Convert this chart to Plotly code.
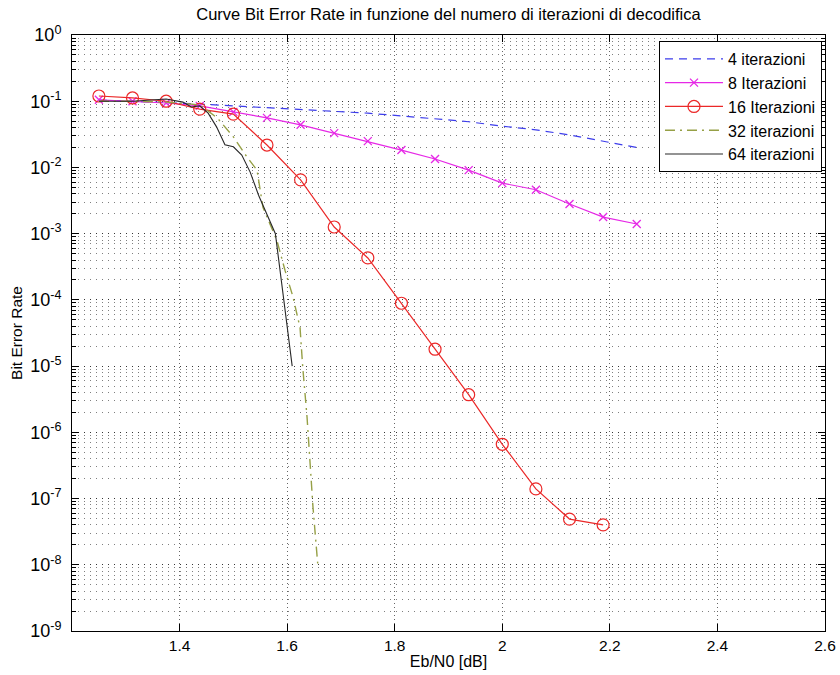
import plotly.graph_objects as go

# ---------------- data ----------------
x_std = [1.25, 1.3125, 1.375, 1.4375, 1.5, 1.5625, 1.625, 1.6875, 1.75, 1.8125,
         1.875, 1.9375, 2.0, 2.0625, 2.125, 2.1875, 2.25]

ber_4 = [0.104, 0.100, 0.097, 0.091, 0.085, 0.080, 0.076, 0.071, 0.066, 0.060,
         0.054, 0.049, 0.042, 0.037, 0.031, 0.025, 0.020]

ber_8 = [0.105, 0.100, 0.094, 0.085, 0.069, 0.056, 0.044, 0.033, 0.025, 0.0183,
         0.0134, 0.0091, 0.0058, 0.0046, 0.0028, 0.00178, 0.0014]

x_16 = x_std[:16]
ber_16 = [0.12, 0.112, 0.10, 0.076, 0.064, 0.0218, 0.0065, 0.00126, 0.00043, 8.9e-5,
          1.8e-5, 3.7e-6, 6.6e-7, 1.4e-7, 4.9e-8, 4.0e-8]

x_32 = [1.25, 1.3125, 1.375, 1.438, 1.47, 1.5, 1.525, 1.544, 1.555, 1.581,
        1.596, 1.611, 1.624, 1.629, 1.637, 1.642, 1.648, 1.657]
ber_32 = [0.10, 0.10, 0.097, 0.088, 0.056, 0.029, 0.0145, 0.0091, 0.0025, 7.9e-4,
          2.8e-4, 1.1e-4, 3.8e-5, 9.6e-6, 1.7e-6, 3.8e-7, 7.5e-8, 1.0e-8]

x_64 = [1.25, 1.3125, 1.375, 1.40625, 1.421875, 1.4375, 1.453125, 1.46875, 1.484375,
        1.5, 1.515625, 1.53125, 1.546875, 1.5625, 1.578125, 1.609375]
ber_64 = [0.10, 0.10, 0.108, 0.097, 0.082, 0.085, 0.066, 0.041, 0.022,
          0.0205, 0.0154, 0.0085, 0.0038, 0.0019, 0.0010, 1.0e-5]

x_tickvals = [1.4, 1.6, 1.8, 2.0, 2.2, 2.4, 2.6]
x_ticktext = ["1.4", "1.6", "1.8", "2", "2.2", "2.4", "2.6"]
y_exponents = [0, -1, -2, -3, -4, -5, -6, -7, -8, -9]

title_text = "Curve Bit Error Rate in funzione del numero di iterazioni di decodifica"
x_title = "Eb/N0 [dB]"
y_title = "Bit Error Rate"

# ---------------- figure ----------------
FONT = "Liberation Sans, Arial, Helvetica, sans-serif"
fig = go.Figure()

fig.add_trace(go.Scatter(x=x_std, y=ber_4, mode="lines", name="4 iterazioni",
                         line=dict(color="rgb(60,60,235)", width=1.2, dash="8px,6px")))
fig.add_trace(go.Scatter(x=x_std, y=ber_8, mode="lines+markers", name="8 Iterazioni",
                         line=dict(color="rgb(230,40,230)", width=1.2),
                         marker=dict(symbol="x-thin-open", size=8,
                                     line=dict(color="rgb(230,40,230)", width=1.3))))
fig.add_trace(go.Scatter(x=x_16, y=ber_16, mode="lines+markers", name="16 Iterazioni",
                         line=dict(color="rgb(235,40,40)", width=1.2),
                         marker=dict(symbol="circle-open", size=12,
                                     line=dict(color="rgb(235,40,40)", width=1.2))))
fig.add_trace(go.Scatter(x=x_32, y=ber_32, mode="lines", name="32 iterazioni",
                         line=dict(color="rgb(150,160,70)", width=1.4,
                                   dash="10px,5px,2px,5px")))
fig.add_trace(go.Scatter(x=x_64, y=ber_64, mode="lines", name="64 iterazioni",
                         line=dict(color="rgb(40,40,40)", width=1.1)))

major_grid = "rgba(0,0,0,0.6)"
minor_grid = "rgba(0,0,0,0.5)"

fig.update_layout(
    width=840, height=675,
    margin=dict(l=72, r=15, t=35, b=44),
    paper_bgcolor="white", plot_bgcolor="white",
    font=dict(family=FONT, size=16, color="black"),
    title=dict(text=title_text, x=0.5, xref="paper", xanchor="center",
               y=0.979, yref="container", yanchor="middle",
               font=dict(family=FONT, size=16.5, color="black")),
    showlegend=True,
    legend=dict(x=0.996, y=0.99, xanchor="right", yanchor="top",
                bgcolor="white", bordercolor="black", borderwidth=1,
                font=dict(family=FONT, size=16, color="black"),
                tracegroupgap=0, itemwidth=58),
)

fig.update_xaxes(
    range=[1.2, 2.6], showline=True, linecolor="black", linewidth=1, mirror="ticks",
    tickmode="array", tickvals=x_tickvals, ticktext=x_ticktext,
    ticks="inside", ticklen=7, tickcolor="black",
    showgrid=True, gridcolor=major_grid, griddash="1px,3px", gridwidth=1,
    zeroline=False, automargin=False,
    title=dict(text=x_title, standoff=3, font=dict(family=FONT, size=16)),
    tickfont=dict(family=FONT, size=15.5),
)

fig.update_yaxes(
    type="log", range=[-9, 0], showline=True, linecolor="black", linewidth=1,
    mirror="ticks",
    tickmode="array",
    tickvals=[10.0 ** e for e in y_exponents],
    ticktext=["10<sup>%d</sup>" % e for e in y_exponents],
    ticks="inside", ticklen=7, tickcolor="black",
    ticklabelstandoff=6,
    showgrid=True, gridcolor=major_grid, griddash="1px,5px", gridwidth=1,
    zeroline=False, automargin=False,
    minor=dict(dtick="D1", showgrid=True, gridcolor=minor_grid, griddash="1px,5px",
               gridwidth=1, ticks="inside", ticklen=4, tickcolor="black"),
    title=dict(text=y_title, standoff=3, font=dict(family=FONT, size=15.5)),
    tickfont=dict(family=FONT, size=18),
)

fig.write_html("out.html",
               config={"displayModeBar": False},
               post_script="document.body.style.margin='0';document.body.style.padding='0';")
